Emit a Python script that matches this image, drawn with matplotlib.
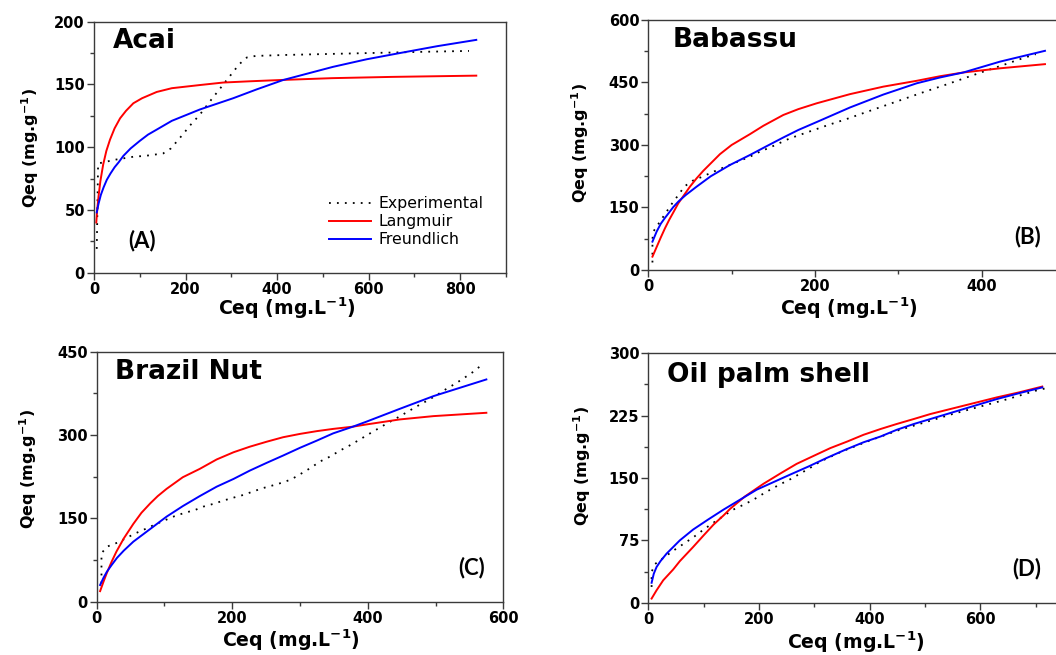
import matplotlib
matplotlib.use('Agg')
import matplotlib.pyplot as plt
from matplotlib.ticker import MultipleLocator

plt.rcParams['font.family'] = ['DejaVu Sans']
plt.rcParams['mathtext.fontset'] = 'custom'
plt.rcParams['mathtext.rm'] = 'DejaVu Sans:bold'
plt.rcParams['mathtext.bf'] = 'DejaVu Sans:bold'
plt.rcParams['mathtext.it'] = 'DejaVu Sans:bold'

# ---------------- Data ----------------
# (A) Acai
acai_exp_x = [6, 7, 8, 9, 46, 88, 110, 131, 151, 168, 182, 196, 209, 224, 238, 250, 263, 276,
              290, 303, 317, 334, 353, 377, 420, 480, 540, 600, 650, 720, 819]
acai_exp_y = [19, 40, 65, 87, 90, 92.5, 93, 94, 95, 99, 105, 111, 117, 123, 129, 135, 141, 147,
              153.5, 159.5, 166, 171.5, 172.7, 173, 173.5, 174, 174.5, 175, 175.4, 176, 176.7]
acai_lang_x = [5, 7, 10, 14, 20, 27, 35, 45, 57, 70, 86, 105, 137, 170, 231, 282, 340, 413,
               520, 650, 835]
acai_lang_y = [40, 50, 61, 73, 86, 97, 106, 115, 123, 129, 135, 139, 144, 147, 149.5, 151.5, 152.5, 153.6,
               155, 156, 157]
acai_freu_x = [6, 10, 15, 21, 28, 36, 45, 54, 64, 80, 100, 118, 137, 170, 231, 304, 355, 413,
               470, 522, 595, 668, 750, 835]
acai_freu_y = [48, 55, 62, 68, 74, 79, 84, 88, 93, 99, 105, 110, 114, 121, 130, 139, 146, 153.5,
               159, 164, 170, 175, 180.5, 185.5]

# (B) Babassu
baba_exp_x = [5, 5, 5, 5, 6, 12, 18, 24, 30, 37, 43, 53, 65, 76, 88, 100, 122, 134, 146, 170,
              193, 216, 239, 263, 286, 309, 332, 356, 379, 402, 426, 449, 465]
baba_exp_y = [18, 36, 56, 74, 92, 110, 128, 146, 164, 182, 200, 214, 224, 234, 244, 254, 272, 284, 294, 316,
              332, 348, 363, 380, 396, 412, 428, 444, 460, 476, 492, 508, 518]
baba_lang_x = [5, 10, 15, 20, 25, 30, 36, 43, 50, 58, 66, 76, 86, 100, 122, 138, 162, 180, 202,
               242, 282, 322, 350, 378, 422, 476]
baba_lang_y = [32, 55, 78, 100, 120, 138, 160, 180, 200, 220, 238, 258, 278, 300, 326, 346, 372, 386, 400,
               422, 440, 454, 465, 474, 484, 494]
baba_freu_x = [5, 10, 15, 20, 25, 30, 36, 45, 58, 75, 98, 122, 139, 162, 180, 202, 242, 282, 322,
               350, 378, 422, 476]
baba_freu_y = [68, 92, 111, 125, 138, 151, 164, 180, 200, 225, 252, 276, 294, 318, 336, 355, 390, 421, 448,
               462, 474, 500, 526]

# (C) Brazil Nut
braz_exp_x = [7, 7, 7, 7, 7, 15, 30, 57, 72, 88, 115, 130, 145, 157, 172, 187, 201, 216, 230, 244,
              259, 273, 287, 301, 316, 329, 344, 359, 373, 387, 402, 416, 430, 445, 459, 473, 488,
              502, 516, 530, 545, 556, 566]
braz_exp_y = [33, 47, 60, 74, 87, 99, 106, 123, 131, 140, 154, 160, 165, 171, 176, 182, 187, 192, 198, 204,
              209, 214, 220, 230, 241, 252, 261, 272, 281, 291, 302, 312, 322, 332, 342, 352, 362,
              372, 383, 393, 405, 414, 424]
braz_lang_x = [5, 10, 15, 22, 29, 40, 54, 66, 79, 90, 103, 127, 152, 177, 202, 226, 251, 275,
               300, 325, 349, 378, 398, 447, 497, 575]
braz_lang_y = [19, 36, 52, 72, 90, 114, 140, 160, 177, 190, 203, 224, 239, 256, 269, 279, 288, 296,
               302, 307, 311, 315, 319, 328, 334, 340]
braz_freu_x = [5, 10, 15, 22, 30, 40, 54, 78, 103, 127, 152, 177, 202, 226, 251, 275, 300, 325,
               349, 378, 398, 447, 497, 575]
braz_freu_y = [30, 43, 54, 66, 79, 92, 108, 130, 153, 172, 190, 207, 221, 236, 250, 263, 277, 290,
               303, 315, 324, 347, 370, 400]

# (D) Oil palm shell
oil_exp_x = [6, 6, 6, 12, 45, 63, 81, 99, 116, 134, 152, 171, 189, 205, 223, 240, 258, 275, 292, 310,
             350, 400, 450, 500, 550, 600, 650, 700, 725]
oil_exp_y = [19, 28, 37, 46.5, 62.5, 70.5, 78.5, 87.5, 95.5, 103.5, 111.5, 117.5, 123.5, 130, 137, 143, 149, 155.5, 162, 169.5,
             182, 195, 207, 217, 227, 236, 245, 255, 259]
oil_lang_x = [6, 15, 27, 45, 57, 81, 100, 118, 136, 148, 175, 208, 240, 268, 300, 329, 360, 389,
              420, 449, 480, 510, 540, 570, 600, 630, 670, 712]
oil_lang_y = [5, 15, 27, 40, 50, 67, 81, 94, 105, 113, 128, 143, 156, 167, 177, 186, 194, 202,
              209, 215, 221, 227, 232, 237, 242, 247, 253, 260]
oil_freu_x = [6, 10, 15, 22, 33, 45, 57, 81, 108, 136, 166, 196, 226, 256, 290, 322, 356, 389,
              420, 449, 480, 510, 540, 570, 600, 630, 670, 712]
oil_freu_y = [24, 35, 43, 50, 59, 67, 75, 88, 100, 112, 124, 136, 145, 154, 164, 174, 184, 193,
              200, 208, 215, 221, 227, 233, 239, 245, 252, 259]

names = ['Acai', 'Babassu', 'Brazil Nut', 'Oil palm shell']
tags = ['(A)', '(B)', '(C)', '(D)']
series_names = ['Experimental', 'Langmuir', 'Freundlich']
x_label = 'Ceq (mg.L$^{-1}$)'
y_label = 'Qeq (mg.g$^{-1}$)'

panels = [
    (acai_exp_x, acai_exp_y, acai_lang_x, acai_lang_y, acai_freu_x, acai_freu_y),
    (baba_exp_x, baba_exp_y, baba_lang_x, baba_lang_y, baba_freu_x, baba_freu_y),
    (braz_exp_x, braz_exp_y, braz_lang_x, braz_lang_y, braz_freu_x, braz_freu_y),
    (oil_exp_x, oil_exp_y, oil_lang_x, oil_lang_y, oil_freu_x, oil_freu_y),
]

# ---------------- Layout / style ----------------
W, H = 1056, 655
fig = plt.figure(figsize=(W / 100, H / 100), dpi=100)

positions = [
    [0.0890, 0.5837, 0.3902, 0.3832],
    [0.6139, 0.5878, 0.3946, 0.3817],
    [0.0916, 0.0814, 0.3850, 0.3817],
    [0.6139, 0.0798, 0.3930, 0.3808],
]
xlims = [(0, 900), (0, 500), (0, 600), (0, 750)]
ylims = [(0, 200), (0, 600), (0, 450), (0, 300)]
xmajor = [200, 200, 200, 200]
ymajor = [50, 150, 150, 75]
name_pos = [(0.046, 0.894), (0.0586, 0.893), (0.045, 0.89), (0.044, 0.886)]
tag_pos = [(0.082, 0.127, 'left'), (0.942, 0.133, 'right'), (0.955, 0.138, 'right'), (0.948, 0.138, 'right')]
xlab_pos = [(0.468, -0.168), (0.481, -0.18), (0.477, -0.182), (0.50, -0.187)]
ylab_pos = [(-0.155, 0.496), (-0.164, 0.507), (-0.169, 0.531), (-0.16, 0.549)]

spine_col = '#3a3a3a'

for i, (ex, ey, lx, ly, fx, fy) in enumerate(panels):
    ax = fig.add_axes(positions[i])
    ax.plot(ex, ey, color='black', lw=1.3, linestyle=(0, (1, 3.4)),
            dash_capstyle='butt', label=series_names[0])
    ax.plot(lx, ly, color='#ff0000', lw=1.4, label=series_names[1])
    ax.plot(fx, fy, color='#0000ff', lw=1.4, label=series_names[2])

    ax.set_xlim(*xlims[i])
    ax.set_ylim(*ylims[i])
    ax.xaxis.set_major_locator(MultipleLocator(xmajor[i]))
    ax.xaxis.set_minor_locator(MultipleLocator(xmajor[i] / 2))
    ax.yaxis.set_major_locator(MultipleLocator(ymajor[i]))
    ax.yaxis.set_minor_locator(MultipleLocator(ymajor[i] / 2))
    ax.tick_params(which='major', direction='out', length=5, width=1, color=spine_col,
                   labelsize=10.5, pad=1.5, top=False, right=False)
    ax.tick_params(which='minor', direction='out', length=3, width=1, color=spine_col,
                   top=False, right=False)
    for lab in ax.get_xticklabels() + ax.get_yticklabels():
        lab.set_fontweight('bold')
    for sp in ax.spines.values():
        sp.set_color(spine_col)
        sp.set_linewidth(1.0)
    if i in (1, 3):
        ax.spines['right'].set_visible(False)

    ax.text(name_pos[i][0], name_pos[i][1], names[i], transform=ax.transAxes,
            ha='left', va='baseline', fontsize=19, fontweight='bold')
    tx, ty, tha = tag_pos[i]
    ax.text(tx, ty, tags[i], transform=ax.transAxes, ha=tha, va='center',
            fontsize=16, fontweight='bold', family=['Lato', 'DejaVu Sans'])

    ax.set_xlabel(x_label, fontsize=13.6, fontweight='bold', va='baseline')
    ax.xaxis.set_label_coords(*xlab_pos[i])
    ax.set_ylabel(y_label, fontsize=11.5, fontweight='bold', va='center')
    ax.yaxis.set_label_coords(*ylab_pos[i])

    if i == 0:
        ax.legend(loc='upper left', bbox_to_anchor=(0.57, 0.305), frameon=False,
                  fontsize=11.3, handlelength=2.7, handletextpad=0.45,
                  labelspacing=0.2, borderpad=0, borderaxespad=0)

fig.savefig('out.png', dpi=100)
